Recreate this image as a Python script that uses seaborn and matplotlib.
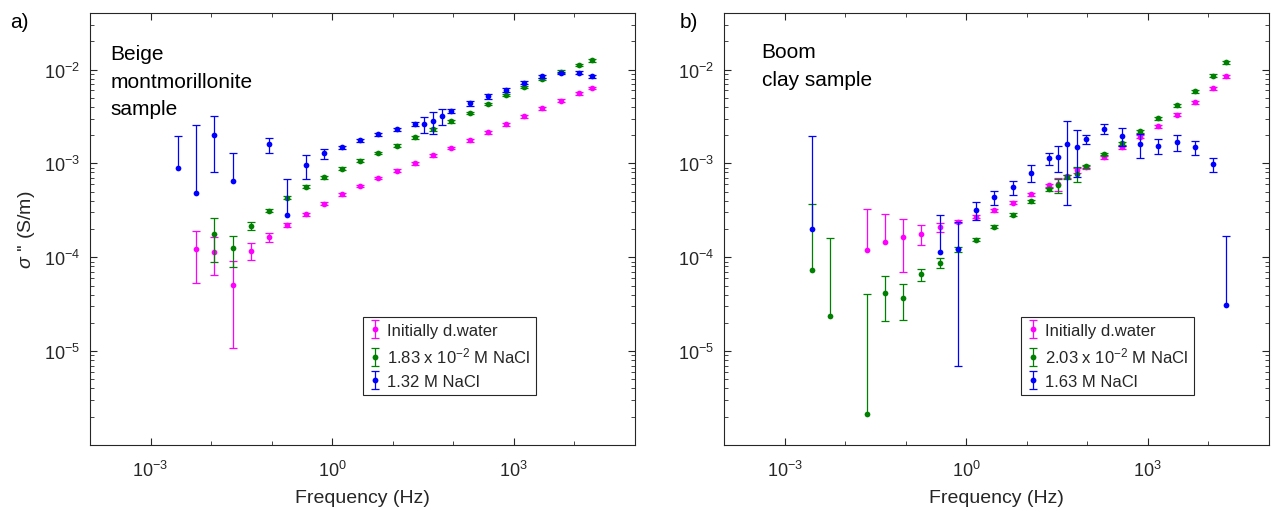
import numpy as np
import matplotlib
matplotlib.use("Agg")
import matplotlib.pyplot as plt
import seaborn as sns
from matplotlib.ticker import FixedLocator, NullFormatter, FuncFormatter, LogLocator
from matplotlib.lines import Line2D
from matplotlib.container import ErrorbarContainer
from matplotlib.legend_handler import HandlerErrorbar

# ---------------- data: panel a) Beige montmorillonite ----------------
a_mag_f = [0.00572, 0.0114, 0.0229, 0.0458, 0.0916, 0.183, 0.366, 0.732, 1.46, 2.93, 5.86,
           11.7, 23.4, 46.9, 93.75, 187.5, 375, 750, 1500, 3000, 6000, 12000, 20000]
a_mag_v = [1.22e-4, 1.15e-4, 5.07e-5, 1.17e-4, 1.63e-4, 2.21e-4, 2.86e-4, 3.72e-4, 4.68e-4, 5.74e-4, 6.98e-4,
           8.38e-4, 1.007e-3, 1.22e-3, 1.46e-3, 1.76e-3, 2.14e-3, 2.60e-3, 3.16e-3, 3.85e-3, 4.67e-3, 5.56e-3, 6.32e-3]
a_mag_e = [6.9e-5, 5.1e-5, 4.0e-5, 2.35e-5, 1.85e-5, 1.2e-5, 1.3e-5, 1.4e-5, 1.6e-5, 2.0e-5, 2.4e-5,
           2.8e-5, 3.5e-5, 4.5e-5, 5.0e-5, 6.0e-5, 7.0e-5, 8.0e-5, 1.0e-4, 1.2e-4, 1.4e-4, 1.7e-4, 1.9e-4]
a_mag_upper_only = []

a_grn_f = [0.0114, 0.0229, 0.0458, 0.0916, 0.183, 0.366, 0.732, 1.46, 2.93, 5.86, 11.7,
           23.4, 46.9, 93.75, 187.5, 375, 750, 1500, 3000, 6000, 12000, 20000]
a_grn_v = [1.76e-4, 1.24e-4, 2.17e-4, 3.14e-4, 4.31e-4, 5.65e-4, 7.10e-4, 8.79e-4, 1.07e-3, 1.29e-3, 1.55e-3,
           1.89e-3, 2.30e-3, 2.80e-3, 3.46e-3, 4.28e-3, 5.33e-3, 6.55e-3, 7.96e-3, 9.52e-3, 1.12e-2, 1.25e-2]
a_grn_e = [8.7e-5, 4.6e-5, 2.2e-5, 1.2e-5, 1.5e-5, 1.8e-5, 2.2e-5, 2.6e-5, 3.2e-5, 3.9e-5, 4.6e-5,
           5.7e-5, 7.0e-5, 8.4e-5, 1.0e-4, 1.3e-4, 1.6e-4, 2.0e-4, 2.4e-4, 2.9e-4, 3.4e-4, 3.8e-4]
a_grn_upper_only = []

a_blu_f = [0.00286, 0.00572, 0.0114, 0.0229, 0.0916, 0.183, 0.366, 0.732, 1.46, 2.93, 5.86, 11.7,
           23.4, 33.3, 46.9, 66.7, 93.75, 187.5, 375, 750, 1500, 3000, 6000, 12000, 20000]
a_blu_v = [9.0e-4, 4.8e-4, 2.0e-3, 6.5e-4, 1.59e-3, 2.84e-4, 9.6e-4, 1.28e-3, 1.48e-3, 1.76e-3, 2.04e-3, 2.32e-3,
           2.64e-3, 2.60e-3, 2.82e-3, 3.20e-3, 3.63e-3, 4.38e-3, 5.16e-3, 6.08e-3, 7.27e-3, 8.43e-3, 9.22e-3, 9.29e-3, 8.43e-3]
a_blu_e = [1.05e-3, 2.07e-3, 1.2e-3, 6.5e-4, 2.9e-4, 3.97e-4, 2.7e-4, 1.6e-4, 6.0e-5, 7.0e-5, 8.0e-5, 9.0e-5,
           1.2e-4, 5.0e-4, 7.4e-4, 6.1e-4, 1.7e-4, 2.6e-4, 3.2e-4, 3.2e-4, 3.0e-4, 3.0e-4, 3.0e-4, 3.0e-4, 2.5e-4]
a_blu_upper_only = [0.00286, 0.00572, 0.0229, 0.183]

# ---------------- data: panel b) Boom clay ----------------
b_mag_f = [0.0229, 0.0458, 0.0916, 0.183, 0.366, 0.732, 1.46, 2.93, 5.86, 11.7, 23.4, 33.3,
           46.9, 66.7, 93.75, 187.5, 375, 750, 1500, 3000, 6000, 12000, 20000]
b_mag_v = [1.20e-4, 1.45e-4, 1.63e-4, 1.77e-4, 2.08e-4, 2.40e-4, 2.71e-4, 3.18e-4, 3.82e-4, 4.68e-4, 5.83e-4, 6.03e-4,
           7.28e-4, 8.49e-4, 9.06e-4, 1.16e-3, 1.48e-3, 1.92e-3, 2.48e-3, 3.30e-3, 4.46e-3, 6.32e-3, 8.49e-3]
b_mag_e = [2.1e-4, 1.44e-4, 9.4e-5, 4.3e-5, 2.4e-5, 1.0e-5, 1.0e-5, 1.2e-5, 1.4e-5, 1.7e-5, 2.2e-5, 1.0e-4,
           3.0e-5, 5.0e-5, 3.3e-5, 4.0e-5, 5.0e-5, 7.0e-5, 9.0e-5, 1.2e-4, 1.6e-4, 2.2e-4, 3.0e-4]
b_mag_upper_only = [0.0229, 0.0458]

b_grn_f = [0.00286, 0.00572, 0.0229, 0.0458, 0.0916, 0.183, 0.366, 0.732, 1.46, 2.93, 5.86, 11.7,
           23.4, 33.3, 46.9, 66.7, 93.75, 187.5, 375, 750, 1500, 3000, 6000, 12000, 20000]
b_grn_v = [7.23e-5, 2.34e-5, 2.12e-6, 4.17e-5, 3.66e-5, 6.59e-5, 8.7e-5, 1.22e-4, 1.54e-4, 2.12e-4, 2.84e-4, 3.94e-4,
           5.33e-4, 5.88e-4, 7.14e-4, 7.76e-4, 9.35e-4, 1.26e-3, 1.64e-3, 2.21e-3, 3.01e-3, 4.14e-3, 5.87e-3, 8.63e-3, 1.20e-2]
b_grn_e = [3.0e-4, 1.37e-4, 3.8e-5, 2.07e-5, 1.5e-5, 9.5e-6, 1.0e-5, 8.0e-6, 6.0e-6, 8.0e-6, 1.0e-5, 1.4e-5,
           1.9e-5, 1.0e-4, 4.0e-5, 1.4e-4, 3.3e-5, 4.5e-5, 6.0e-5, 8.0e-5, 1.1e-4, 1.5e-4, 2.1e-4, 3.1e-4, 4.3e-4]
b_grn_upper_only = [0.00286, 0.00572, 0.0229]

b_blu_f = [0.00286, 0.366, 0.732, 1.46, 2.93, 5.86, 11.7, 23.4, 33.3, 46.9, 66.7, 93.75,
           187.5, 375, 750, 1500, 3000, 6000, 12000, 20000]
b_blu_v = [2.02e-4, 1.14e-4, 1.22e-4, 3.21e-4, 4.35e-4, 5.6e-4, 7.96e-4, 1.13e-3, 1.17e-3, 1.60e-3, 1.49e-3, 1.81e-3,
           2.34e-3, 1.95e-3, 1.60e-3, 1.55e-3, 1.69e-3, 1.49e-3, 9.75e-4, 3.08e-5]
b_blu_e = [1.74e-3, 1.7e-4, 1.15e-4, 7.0e-5, 7.5e-5, 9.5e-5, 1.7e-4, 1.7e-4, 3.6e-4, 1.24e-3, 7.7e-4, 2.0e-4,
           3.0e-4, 4.1e-4, 4.7e-4, 2.8e-4, 3.4e-4, 2.5e-4, 1.7e-4, 1.36e-4]
b_blu_upper_only = [0.00286, 0.366, 20000]

a_labels = ["Initially d.water", r"1.83 x 10$^{\mathregular{-2}}$ M NaCl", "1.32 M NaCl"]
b_labels = ["Initially d.water", r"2.03 x 10$^{\mathregular{-2}}$ M NaCl", "1.63 M NaCl"]
a_title = "Beige\nmontmorillonite\nsample"
b_title = "Boom\nclay sample"
colors = ["#ff00ff", "#008000", "#0000ff"]

# ---------------- style ----------------
sns.set_theme(style="ticks")
plt.rcParams["font.family"] = ["Liberation Sans", "DejaVu Sans"]
plt.rcParams["mathtext.fontset"] = "custom"
plt.rcParams["mathtext.rm"] = "Liberation Sans"
plt.rcParams["mathtext.it"] = "Liberation Sans:italic"
plt.rcParams["mathtext.bf"] = "Liberation Sans:bold"
plt.rcParams["mathtext.sf"] = "Liberation Sans"
AX = "#262626"

W, H = 1275, 510
fig = plt.figure(figsize=(W / 100, H / 100), dpi=100)
axL = fig.add_axes([90 / W, 1 - 446 / H, 544.5 / W, 432 / H])
axR = fig.add_axes([724 / W, 1 - 446 / H, 544.8 / W, 432 / H])


def draw(ax, f, v, e, upper_only, color, z):
    f = np.asarray(f, float)
    v = np.asarray(v, float)
    e = np.asarray(e, float)
    hidden = np.isin(f, np.asarray(upper_only, float))
    lo = np.where(hidden, 0.0, e)
    cont = ax.errorbar(f, v, yerr=[lo, e], fmt="none", ecolor=color, elinewidth=0.9,
                       capsize=3.1, capthick=0.9, zorder=z)
    keep = [i for i in range(len(f)) if not hidden[i]]
    if len(keep) < len(f):
        cont.lines[1][0].set_markevery(keep)
    sns.scatterplot(x=f, y=v, color=color, s=17, linewidth=0, ax=ax, zorder=z + 0.5, legend=False)
    return cont


def fmt_pow(x, pos):
    return r"$\mathregular{10^{%d}}$" % int(round(np.log10(x)))


def style(ax):
    ax.set_xscale("log")
    ax.set_yscale("log")
    ax.set_xlim(1e-4, 1e5)
    ax.set_ylim(1e-6, 4e-2)
    ax.xaxis.set_major_locator(FixedLocator([1e-3, 1e0, 1e3]))
    ax.xaxis.set_minor_locator(FixedLocator([1e-4, 1e-2, 1e-1, 1e1, 1e2, 1e4, 1e5]))
    ax.xaxis.set_major_formatter(FuncFormatter(fmt_pow))
    ax.xaxis.set_minor_formatter(NullFormatter())
    ax.yaxis.set_major_locator(FixedLocator([1e-5, 1e-4, 1e-3, 1e-2]))
    ax.yaxis.set_minor_locator(LogLocator(10, subs=np.arange(2, 10), numticks=30))
    ax.yaxis.set_major_formatter(FuncFormatter(fmt_pow))
    ax.yaxis.set_minor_formatter(NullFormatter())
    ax.tick_params(which="both", direction="in", top=True, right=True, color=AX,
                   labelcolor=AX, labelsize=13)
    ax.tick_params(axis="x", which="major", pad=11)
    ax.tick_params(axis="y", which="major", pad=7)
    ax.tick_params(which="major", length=5, width=0.8)
    ax.tick_params(which="minor", length=3, width=0.6)
    for s in ax.spines.values():
        s.set_color(AX)
        s.set_linewidth(0.8)
    ax.set_xlabel("Frequency (Hz)", fontsize=14, color=AX, labelpad=6)
    ax.grid(False)


panels = [
    (axL, [(a_mag_f, a_mag_v, a_mag_e, a_mag_upper_only),
           (a_grn_f, a_grn_v, a_grn_e, a_grn_upper_only),
           (a_blu_f, a_blu_v, a_blu_e, a_blu_upper_only)], a_labels, a_title, 20.7, 45, 0.5008),
    (axR, [(b_mag_f, b_mag_v, b_mag_e, b_mag_upper_only),
           (b_grn_f, b_grn_v, b_grn_e, b_grn_upper_only),
           (b_blu_f, b_blu_v, b_blu_e, b_blu_upper_only)], b_labels, b_title, 37.7, 43.5, 0.5446),
]

for ax, series, labels, title, tx, ty, lx in panels:
    style(ax)
    handles = []
    for k, (f, v, e, uo) in enumerate(series):
        cont = draw(ax, f, v, e, uo, colors[k], 3 + 2 * k)
        dot = Line2D([], [], marker="o", ls="none", color=colors[k], markersize=4.2, markeredgewidth=0)
        handles.append((cont, dot))
    leg = ax.legend(handles, labels, loc="upper left", bbox_to_anchor=(lx, 0.297),
                    borderaxespad=0, fontsize=12, frameon=True, fancybox=False,
                    framealpha=1, edgecolor=AX, handlelength=0.8, handletextpad=0.3,
                    borderpad=0.35, labelspacing=0.5,
                    handler_map={ErrorbarContainer: HandlerErrorbar(xerr_size=0.55)})
    leg.get_frame().set_linewidth(0.8)
    ax.text(tx / 544.5, (446 - ty) / 432, title, transform=ax.transAxes, ha="left", va="top",
            fontsize=15, color="black", linespacing=1.58)

axL.set_ylabel(r"$\sigma$ '' (S/m)", fontsize=14, color=AX, labelpad=5)

fig.text(10 / W, 1 - 28 / H, "a)", fontsize=15, ha="left", va="baseline", color="black")
fig.text(680 / W, 1 - 28 / H, "b)", fontsize=15, ha="left", va="baseline", color="black")

fig.savefig("out.png", dpi=100)
